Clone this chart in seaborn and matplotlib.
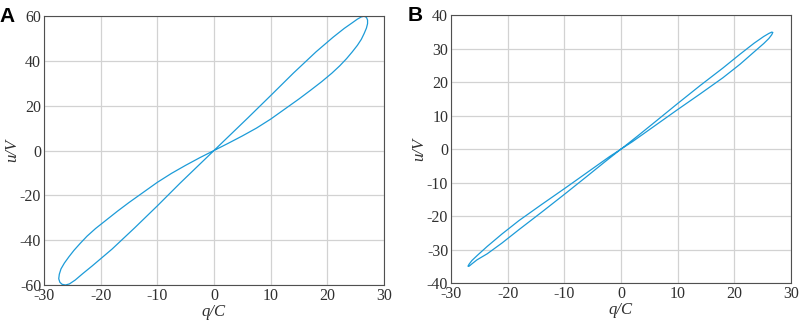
import matplotlib
matplotlib.use("Agg")
import matplotlib.pyplot as plt
import pandas as pd
import seaborn as sns

# Boucle A : charge q (C) et tension u (V)
q_a = [0, 3, 6, 10, 14, 18, 21, 23, 24.3, 25.3, 26.0, 26.5, 26.9, 27.1, 27.1, 26.9,
       26.5, 26.0, 25.3, 24.4, 23.4, 22.2, 20.8, 19, 17, 15, 12.5, 10, 7.5, 5, 2.5, 0,
       -2.5, -5, -7.5, -10, -12.5, -15, -17, -19, -20.9, -22.4, -23.6, -24.7, -25.6,
       -26.4, -27.0, -27.3, -27.4, -27.2, -26.8, -26.2, -25.5, -24.5, -23.2, -21.5,
       -18, -14, -10, -6, -3, 0]
u_a = [0, 7.3, 14.6, 24.5, 34.5, 44, 50.5, 54.5, 56.8, 58.6, 59.6, 59.9, 59.4, 58.2, 56.6, 54.6,
       52.2, 49.6, 46.9, 44.0, 41.0, 37.8, 34.5, 30.7, 26.8, 23, 18.5, 14, 10, 6.5, 3.2, 0,
       -3.2, -6.6, -10.2, -14.2, -18.7, -23.2, -27, -31, -34.8, -38.2, -41.4, -44.5, -47.4,
       -50.2, -52.8, -55.2, -57.2, -58.8, -59.7, -60, -59.5, -57.8, -55, -51.5,
       -44, -34.5, -24.7, -14.6, -7.3, 0]

# Boucle B
q_b = [0, 3, 6, 10, 14, 18, 21, 23.5, 25.2, 26.1, 26.6, 26.8, 26.6, 26.1, 25.2, 23.5, 21, 18,
       14, 10, 7, 4, 2, 0,
       -2, -4, -7, -10, -14, -18, -21, -23.6, -25.3, -26.3, -26.8, -27.0, -26.8, -26.3, -25.4,
       -23.6, -21, -18, -14, -10, -6, -3, 0]
u_b = [0, 4, 8.1, 13.6, 19, 24.2, 28.3, 31.6, 33.6, 34.5, 34.9, 34.8, 34.1, 33.0, 31.5, 29, 25.3, 21.3,
       16.5, 11.8, 8.2, 4.6, 2.2, 0,
       -2.2, -4.6, -8.2, -11.8, -16.5, -21.3, -25.3, -29.0, -31.6, -33.2, -34.3, -34.9, -34.9, -34.2, -33.0,
       -31.2, -28, -24, -18.8, -13.5, -8.1, -4, 0]

x_ticks = [-30, -20, -10, 0, 10, 20, 30]
y_ticks_a = [-60, -40, -20, 0, 20, 40, 60]
y_ticks_b = [-40, -30, -20, -10, 0, 10, 20, 30, 40]

sns.set_theme(style="whitegrid")
plt.rcParams["font.family"] = ["Liberation Serif", "DejaVu Serif"]

couleur = "#1c9bd8"

fig = plt.figure(figsize=(8.03, 3.22), dpi=100)
ax_a = fig.add_axes([0.0548, 0.1149, 0.4234, 0.8354])
ax_b = fig.add_axes([0.5616, 0.1202, 0.4234, 0.8332])


def tracer(ax, q, u, yticks, lettre):
    df = pd.DataFrame({"q": q, "u": u})
    sns.lineplot(data=df, x="q", y="u", sort=False, estimator=None,
                 color=couleur, linewidth=0.9, ax=ax)
    ax.set_xlim(-30, 30)
    ax.set_ylim(yticks[0], yticks[-1])
    ax.set_xticks(x_ticks)
    ax.set_yticks(yticks)
    ax.set_xticklabels([str(t) for t in x_ticks])
    ax.set_yticklabels([str(t) for t in yticks])
    ax.set_facecolor("white")
    ax.grid(True, color="#d2d2d2", linewidth=0.9)
    for s in ax.spines.values():
        s.set_visible(True)
        s.set_color("#505050")
        s.set_linewidth(0.8)
    ax.tick_params(direction="in", length=3, width=0.6, colors="#505050",
                   labelcolor="#303030", labelsize=11.5, pad=2)
    ax.set_xlabel("q/C", fontsize=12, style="italic", color="#303030", labelpad=0)
    ax.set_ylabel("u/V", fontsize=12, style="italic", color="#303030", labelpad=0)
    ax.text(-0.13 if lettre == "A" else -0.127, 1.0, lettre, transform=ax.transAxes,
            fontsize=15, fontweight="bold", family=["Liberation Sans", "DejaVu Sans"],
            va="center", ha="left", color="black")


tracer(ax_a, q_a, u_a, y_ticks_a, "A")
tracer(ax_b, q_b, u_b, y_ticks_b, "B")

fig.savefig("out.png", dpi=100)
